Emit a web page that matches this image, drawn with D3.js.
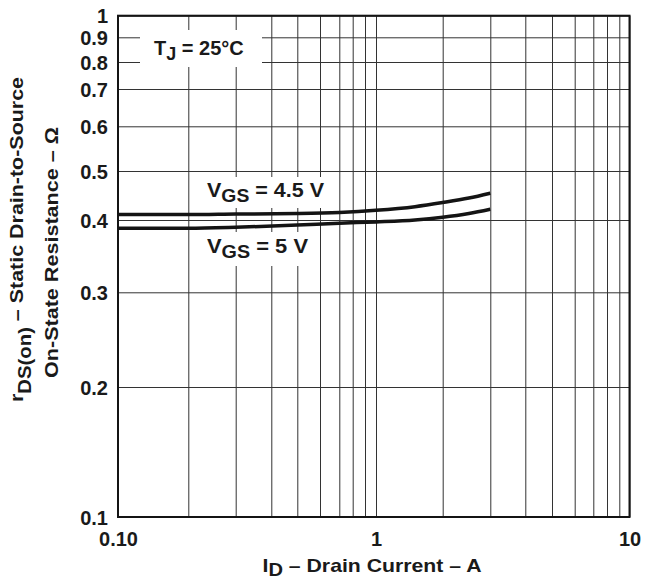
<!DOCTYPE html>
<meta charset="utf-8">
<style>
    body { margin: 0; background: #fff; }

    svg text {
        font-family: "Liberation Sans", Arial, Helvetica, sans-serif;
        font-weight: bold;
        fill: #1a1a1a;
    }

    .grid line { stroke: #333; stroke-width: 1px; }
    .grid .domain { display: none; }
    .grid text { font-size: 20px; }

    .curve {
        fill: none;
        stroke: #141414;
        stroke-width: 3.5px;
    }

    .frame {
        fill: none;
        stroke: #141414;
        stroke-width: 2px;
    }
</style>

<body>
<script src="https://d3js.org/d3.v7.min.js"></script>
<script>
    // drain current, A
    var drainCurrent = [0.1, 0.2, 0.3, 0.5, 0.7, 1, 1.5, 2, 2.5, 3];

    // static drain-to-source on-state resistance, ohm
    var rdsVgs45 = [0.410, 0.410, 0.411, 0.412, 0.414, 0.418, 0.425, 0.433, 0.442, 0.452];
    var rdsVgs5 = [0.387, 0.387, 0.3885, 0.392, 0.395, 0.397, 0.400, 0.405, 0.412, 0.420];

    // log grid lines and the ones that carry a label
    var xTicks = [0.1, 0.2, 0.3, 0.4, 0.5, 0.6, 0.7, 0.8, 0.9,
                  1, 2, 3, 4, 5, 6, 7, 8, 9, 10];
    var xLabels = { "0.1": "0.10", "1": "1", "10": "10" };
    var yTicks = [0.1, 0.2, 0.3, 0.4, 0.5, 0.6, 0.7, 0.8, 0.9, 1];
    var yLabels = ["0.1", "0.2", "0.3", "0.4", "0.5", "0.6", "0.7", "0.8", "0.9", "1"];

    // the printed grid is not a true log grid, so the scale is pinned
    // to where each grid line sits on the sheet
    var xGridPx = [118, 188.3, 235.7, 271.3, 297.3, 320, 339.3, 352.7, 365,
                   376, 442.7, 490.3, 525.3, 552, 574.7, 593.3, 607, 619.3, 629.5];
    var yGridPx = [517, 387, 292.3, 220, 171, 126.3, 89, 62, 37.3, 15.7];

    var width = 646, height = 579;
    // (window.top is read-only, hence the plot* names)
    var plotLeft = xGridPx[0], plotRight = xGridPx[xGridPx.length - 1],
        plotTop = yGridPx[yGridPx.length - 1], plotBottom = yGridPx[0];

    var x = d3.scaleLog().domain(xTicks).range(xGridPx);
    var y = d3.scaleLog().domain(yTicks).range(yGridPx);

    var svg = d3.select("body").append("svg")
        .attr("width", width)
        .attr("height", height);

    // grid + tick labels from the axes
    var xAxis = svg.append("g")
        .attr("class", "grid")
        .attr("transform", "translate(0," + plotBottom + ")")
        .call(d3.axisBottom(x)
            .tickValues(xTicks)
            .tickSize(-(plotBottom - plotTop))
            .tickPadding(15)
            .tickFormat(function(d) { return xLabels[String(d)] || ""; }));
    xAxis.selectAll("text").attr("fill", "#1a1a1a");

    var yAxis = svg.append("g")
        .attr("class", "grid")
        .attr("transform", "translate(" + plotLeft + ",0)")
        .call(d3.axisLeft(y)
            .tickValues(yTicks)
            .tickSize(-(plotRight - plotLeft))
            .tickPadding(10)
            .tickFormat(function(d, i) { return yLabels[i]; }));
    yAxis.selectAll("text").attr("fill", "#1a1a1a").attr("dy", "0.36em");

    // white patches behind the in-plot labels
    var patches = [
        [140, 30, 122, 37],
        [200, 177, 130, 31],
        [200, 232, 114, 34]
    ];
    svg.selectAll("rect.patch")
        .data(patches)
        .enter().append("rect")
        .attr("class", "patch")
        .attr("x", function(d) { return d[0]; })
        .attr("y", function(d) { return d[1]; })
        .attr("width", function(d) { return d[2]; })
        .attr("height", function(d) { return d[3]; })
        .attr("fill", "#fff");

    // curves
    var line = d3.line()
        .x(function(d) { return x(d[0]); })
        .y(function(d) { return y(d[1]); })
        .curve(d3.curveMonotoneX);

    [rdsVgs45, rdsVgs5].forEach(function(series) {
        svg.append("path")
            .attr("class", "curve")
            .attr("d", line(drainCurrent.map(function(v, i) { return [v, series[i]]; })));
    });

    // plot frame
    svg.append("rect")
        .attr("class", "frame")
        .attr("x", plotLeft)
        .attr("y", plotTop)
        .attr("width", plotRight - plotLeft)
        .attr("height", plotBottom - plotTop);

    // text with a subscript part
    function subText(g, parts, size) {
        var t = g.append("text").style("font-size", size + "px");
        parts.forEach(function(p) {
            t.append("tspan")
                .attr("dy", p[1])
                .style("font-size", p[2] ? p[2] + "px" : null)
                .text(p[0]);
        });
        return t;
    }

    subText(svg.append("g").attr("transform", "translate(154,55)"),
        [["T", 0], ["J", 5, 18], [" = 25\u00b0C", -5]], 20);

    subText(svg.append("g").attr("transform", "translate(207,197)"),
        [["V", 0], ["GS", 5, 18], [" = 4.5 V", -5]], 20)
        .attr("textLength", 117)
        .attr("lengthAdjust", "spacingAndGlyphs");

    subText(svg.append("g").attr("transform", "translate(207,253)"),
        [["V", 0], ["GS", 5, 18], [" = 5 V", -5]], 20)
        .attr("textLength", 101)
        .attr("lengthAdjust", "spacingAndGlyphs");

    // axis titles
    subText(svg.append("g").attr("transform", "translate(372,572)"),
        [["I", 0], ["D", 4, 18], [" \u2013 Drain Current \u2013 A", -4]], 19)
        .attr("text-anchor", "middle")
        .attr("textLength", 219)
        .attr("lengthAdjust", "spacingAndGlyphs");

    subText(svg.append("g").attr("transform", "translate(23,239.5) rotate(-90)"),
        [["r", 0], ["DS(on)", 8, 18], [" \u2013 Static Drain-to-Source", -8]], 19)
        .attr("text-anchor", "middle")
        .attr("textLength", 325)
        .attr("lengthAdjust", "spacingAndGlyphs");

    subText(svg.append("g").attr("transform", "translate(58,252.5) rotate(-90)"),
        [["On-State Resistance \u2013 \u03a9", 0]], 19)
        .attr("text-anchor", "middle")
        .attr("textLength", 251)
        .attr("lengthAdjust", "spacingAndGlyphs");
</script>
</body>
